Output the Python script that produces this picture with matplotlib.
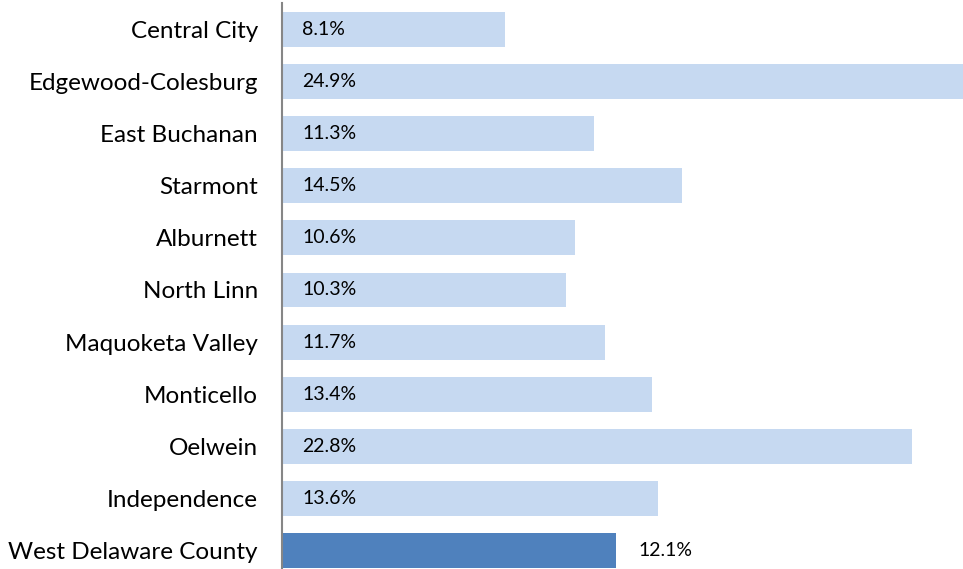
import matplotlib
matplotlib.use('agg')
import matplotlib.pyplot as plt

# data, top to bottom as in the chart
districts = ["Central City", "Edgewood-Colesburg", "East Buchanan", "Starmont",
             "Alburnett", "North Linn", "Maquoketa Valley", "Monticello",
             "Oelwein", "Independence", "West Delaware County"]
rates = [8.1, 24.9, 11.3, 14.5, 10.6, 10.3, 11.7, 13.4, 22.8, 13.6, 12.1]

plt.rcParams['font.family'] = ['Lato', 'DejaVu Sans']

fig = plt.figure(figsize=(9.63, 5.69), dpi=100)
# axes: left edge at x=281.5 px, rows from y=3.4 px to y=576.6 px (cut off below)
ax = fig.add_axes([281.5 / 963, -7.6 / 569, 1 - 281.5 / 963, 573.2 / 569])

colors = ['#c6d9f1'] * (len(rates) - 1) + ['#4f81bd']
y = range(len(rates))
ax.barh(y, rates, height=0.67, color=colors)

for i, v in enumerate(rates):
    if i == len(rates) - 1:
        ax.text(v + 0.8, i, f"{v}%", va='center', ha='left', fontsize=14)
    else:
        ax.text(0.75, i, f"{v}%", va='center', ha='left', fontsize=14)

ax.set_xlim(0, 24.65)
ax.set_ylim(len(rates) - 0.5, -0.5)
ax.set_yticks(list(y))
ax.set_yticklabels(districts, fontsize=17.5)
ax.tick_params(axis='y', length=0, pad=17)
ax.set_xticks([])
for s in ['top', 'right', 'bottom']:
    ax.spines[s].set_visible(False)
ax.spines['left'].set_color('#868686')
ax.spines['left'].set_linewidth(1.5)

fig.savefig('out.png', dpi=100)
